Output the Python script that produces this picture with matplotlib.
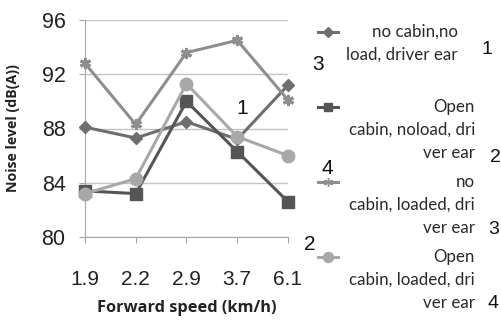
import matplotlib
matplotlib.use("Agg")
import matplotlib.pyplot as plt
from matplotlib.lines import Line2D

speeds = ["1.9", "2.2", "2.9", "3.7", "6.1"]
no_cabin_no_load = [88.1, 87.3, 88.5, 87.2, 91.2]
open_cabin_no_load = [83.4, 83.2, 90.0, 86.3, 82.6]
no_cabin_loaded = [92.8, 88.3, 93.6, 94.5, 90.1]
open_cabin_loaded = [83.2, 84.3, 91.3, 87.4, 86.0]

labels = [["no cabin,no", "load, driver ear"],
          ["Open", "cabin, noload, dri", "ver ear"],
          ["no", "cabin, loaded, dri", "ver ear"],
          ["Open", "cabin, loaded, dri", "ver ear"]]
series = [no_cabin_no_load, open_cabin_no_load, no_cabin_loaded, open_cabin_loaded]
colors = ["#6e6e6e", "#555555", "#8e8e8e", "#a8a8a8"]
markers = ["D", "s", (6, 2, 0), "o"]
msizes = [6, 8, 8, 9]

W, H = 502, 322
fig = plt.figure(figsize=(W / 100, H / 100), dpi=100)
ax = fig.add_axes([85 / W, 1 - 237 / H, (288 - 85) / W, (237 - 20) / H])

x = list(range(len(speeds)))
for ys, c, m, ms in zip(series, colors, markers, msizes):
    ax.plot(x, ys, color=c, lw=2.2, marker=m, ms=ms, mew=2.2 if m == (6, 2, 0) else 1,
            mec=c, mfc=c, clip_on=False, zorder=3)

ax.set_xlim(0, 4)
ax.set_ylim(80, 96)
ax.set_yticks([80, 84, 88, 92, 96])
ax.set_xticks(x)
ax.set_xticklabels(speeds)
ax.yaxis.grid(True, color="#c4c4c4", lw=1)
for s in ["top", "right"]:
    ax.spines[s].set_visible(False)
for s in ["left", "bottom"]:
    ax.spines[s].set_color("#a6a6a6")
ax.tick_params(axis="x", length=4, color="#a6a6a6", pad=20, labelsize=15, labelcolor="#222222")
ax.tick_params(axis="y", length=4, color="#a6a6a6", pad=10, labelsize=15.5, labelcolor="#222222")
for t in ax.get_xticklabels() + ax.get_yticklabels():
    t.set_family("Liberation Sans")

fig.text(187 / W, 1 - 308 / H, "Forward speed (km/h)", ha="center", va="center",
         family="Open Sans", weight="bold", fontsize=11.8, color="#222222")
fig.text(13 / W, 1 - 128 / H, "Noise level (dB(A))", ha="center", va="center", rotation=90,
         family="Open Sans", weight="bold", fontsize=10.2, color="#222222")

# numbers scattered over the chart
for txt, px, py in [("1", 242, 108), ("3", 318, 65), ("4", 327, 168), ("2", 310, 245)]:
    fig.text(px / W, 1 - py / H, txt, ha="center", va="center", family="Liberation Sans",
             fontsize=15, color="#111111")

# legend drawn by hand
leg_y = [32, 107, 182, 257]
leg_right = [458, 475, 475, 475]
for lab, c, m, ms, ly, lr in zip(labels, colors, markers, msizes, leg_y, leg_right):
    fig.add_artist(Line2D([318 / W, 328 / W, 338 / W], [1 - ly / H] * 3, color=c, lw=2.2,
                          marker=m, ms=ms * 0.8, markevery=[1], mec=c, mfc=c,
                          transform=fig.transFigure))
    for i, line in enumerate(lab):
        fig.text(lr / W, 1 - (ly + 23 * i) / H, line, ha="right", va="center",
                 family="Lato", fontsize=12.2, color="#2a2a2a")
for txt, px, py in [("1", 487, 50), ("2", 495, 157), ("3", 494, 230), ("4", 493, 304)]:
    fig.text(px / W, 1 - py / H, txt, ha="center", va="center", family="Liberation Sans",
             fontsize=14, color="#111111")

fig.savefig("out.png", dpi=100)
